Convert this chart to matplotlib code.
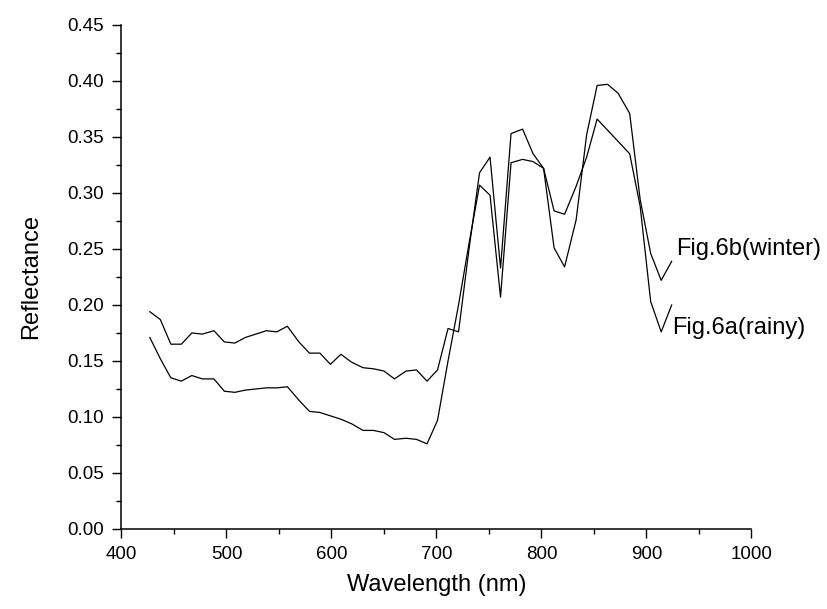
import matplotlib
matplotlib.use("Agg")
import matplotlib.pyplot as plt
from matplotlib.ticker import MultipleLocator

plt.rcParams["font.family"] = ["Liberation Sans", "DejaVu Sans"]

wavelength = [427, 437, 447, 457, 467, 477, 488, 498, 508, 518,
              528, 538, 548, 558, 569, 579, 589, 599, 609, 619,
              630, 640, 650, 660, 671, 681, 691, 701, 711, 721,
              731, 741, 751, 761, 771, 782, 792, 802, 812, 822,
              833, 843, 853, 863, 873, 884, 894, 904, 914, 924]

winter = [0.194, 0.187, 0.165, 0.165, 0.175, 0.174, 0.177, 0.167, 0.166, 0.171,
          0.174, 0.177, 0.176, 0.181, 0.167, 0.157, 0.157, 0.147, 0.156, 0.149,
          0.144, 0.143, 0.141, 0.134, 0.141, 0.142, 0.132, 0.142, 0.179, 0.176,
          0.250, 0.318, 0.332, 0.233, 0.353, 0.357, 0.335, 0.322, 0.251, 0.234,
          0.276, 0.352, 0.396, 0.397, 0.389, 0.371, 0.294, 0.246, 0.222, 0.239]

rainy = [0.171, 0.152, 0.135, 0.132, 0.137, 0.134, 0.134, 0.123, 0.122, 0.124,
         0.125, 0.126, 0.126, 0.127, 0.115, 0.105, 0.104, 0.101, 0.098, 0.094,
         0.088, 0.088, 0.086, 0.080, 0.081, 0.080, 0.076, 0.097, 0.150, 0.200,
         0.255, 0.307, 0.298, 0.207, 0.327, 0.330, 0.328, 0.322, 0.284, 0.281,
         0.306, 0.332, 0.366, 0.356, 0.346, 0.335, 0.288, 0.203, 0.176, 0.200]

labels = ["Fig.6b(winter)", "Fig.6a(rainy)"]

fig = plt.figure(figsize=(8.28, 6.09), dpi=100)
ax = fig.add_axes([0.1467, 0.1314, 0.7609, 0.8276])

ax.plot(wavelength, winter, color="black", lw=0.9)
ax.plot(wavelength, rainy, color="black", lw=0.9)

ax.text(928, winter[-1] + 0.011, labels[0], fontsize=17, va="center", ha="left")
ax.text(924, rainy[-1] - 0.021, labels[1], fontsize=17, va="center", ha="left")

ax.set_xlim(400, 1000)
ax.set_ylim(0, 0.45)
ax.xaxis.set_major_locator(MultipleLocator(100))
ax.xaxis.set_minor_locator(MultipleLocator(50))
ax.yaxis.set_major_locator(MultipleLocator(0.05))
ax.yaxis.set_minor_locator(MultipleLocator(0.025))
ax.yaxis.set_major_formatter(plt.FormatStrFormatter("%.2f"))

for s in ["top", "right"]:
    ax.spines[s].set_visible(False)
for s in ["left", "bottom"]:
    ax.spines[s].set_linewidth(1.1)

ax.tick_params(which="major", direction="out", length=6.5, width=1.0,
               labelsize=13.5, pad=6)
ax.tick_params(which="minor", direction="out", length=3.4, width=1.0)

ax.set_xlabel("Wavelength (nm)", fontsize=17, labelpad=8)
ax.set_ylabel("Reflectance", fontsize=17, labelpad=18)

fig.savefig("out.png", dpi=100)
